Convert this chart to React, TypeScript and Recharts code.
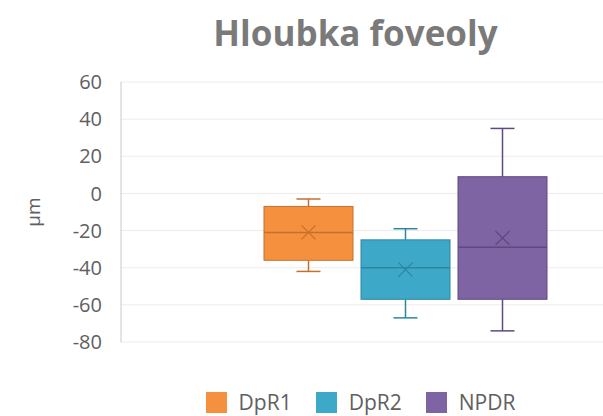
import React from 'react';
import {
  Bar,
  CartesianGrid,
  ComposedChart,
  Legend,
  XAxis,
  YAxis,
} from 'recharts';

const groups = ['DpR1', 'DpR2', 'NPDR'];
const minVals = [-42, -67, -74];
const q1Vals = [-36, -57, -57];
const medianVals = [-21, -40, -29];
const q3Vals = [-7, -25, 9];
const maxVals = [-3, -19, 35];
const meanVals = [-21, -41, -24];
const yTicks = [-80, -60, -40, -20, 0, 20, 40, 60];

const fills = ['#F5913E', '#3DA8C7', '#7E64A2'];
const darks = ['#C4702C', '#2C86A0', '#5E4A80'];

const FONT = '"Open Sans", "Noto Sans", sans-serif';

// one row, one range value per group
const data = [
  groups.reduce(
    (row, g, i) => ({ ...row, [g]: [q1Vals[i], q3Vals[i]] }),
    { name: '' } as Record<string, unknown>
  ),
];

// eslint-disable-next-line @typescript-eslint/no-explicit-any
const BoxShape = (props: any, i: number) => {
  const { x, y, width, height } = props;
  const top = Math.min(y, y + height);
  const h = Math.abs(height);
  const ppu = h / (q3Vals[i] - q1Vals[i]);
  const toY = (v: number) => top + (q3Vals[i] - v) * ppu;
  const cx = x + width / 2;
  const cap = 12;
  const dark = darks[i];
  const my = toY(meanVals[i]);
  const m = 7;
  return (
    <g>
      <line x1={cx} x2={cx} y1={toY(maxVals[i])} y2={top} stroke={dark} strokeWidth={1.5} />
      <line x1={cx - cap} x2={cx + cap} y1={toY(maxVals[i])} y2={toY(maxVals[i])} stroke={dark} strokeWidth={1.5} />
      <line x1={cx} x2={cx} y1={top + h} y2={toY(minVals[i])} stroke={dark} strokeWidth={1.5} />
      <line x1={cx - cap} x2={cx + cap} y1={toY(minVals[i])} y2={toY(minVals[i])} stroke={dark} strokeWidth={1.5} />
      <rect x={x} y={top} width={width} height={h} fill={fills[i]} stroke={dark} strokeWidth={1} />
      <line x1={x} x2={x + width} y1={toY(medianVals[i])} y2={toY(medianVals[i])} stroke={dark} strokeWidth={1.5} />
      <line x1={cx - m} x2={cx + m} y1={my - m} y2={my + m} stroke={dark} strokeWidth={1.2} />
      <line x1={cx - m} x2={cx + m} y1={my + m} y2={my - m} stroke={dark} strokeWidth={1.2} />
    </g>
  );
};

// eslint-disable-next-line @typescript-eslint/no-explicit-any
const LegendContent = ({ payload }: any) => (
  <div style={{ display: 'flex', justifyContent: 'center', gap: 24, marginLeft: 118 }}>
    {/* eslint-disable-next-line @typescript-eslint/no-explicit-any */}
    {(payload || []).map((p: any) => (
      <div key={p.value} style={{ display: 'flex', alignItems: 'center', gap: 12 }}>
        <span style={{ width: 21, height: 21, background: p.color, display: 'inline-block' }} />
        <span style={{ fontSize: 21, color: '#606060', fontFamily: FONT }}>{p.value}</span>
      </div>
    ))}
  </div>
);

export default function App() {
  return (
    <div style={{ position: 'relative', width: 603, height: 416, background: '#fff' }}>
      <style>{'body{margin:0}'}</style>
      <div
        style={{
          position: 'absolute',
          top: 9,
          left: 0,
          width: 603,
          marginLeft: 108,
          textAlign: 'center',
          fontFamily: FONT,
          fontWeight: 700,
          fontSize: 35,
          color: '#7A7A7A',
          boxSizing: 'border-box',
          paddingRight: 108,
        }}
      >
        Hloubka foveoly
      </div>
      <ComposedChart
        width={603}
        height={416}
        data={data}
        margin={{ top: 82, right: 0, bottom: 46, left: 0 }}
        barGap={8}
        barSize={89}
      >
        <CartesianGrid vertical={false} stroke="#ECECEC" />
        <XAxis dataKey="name" hide padding={{ left: 86, right: 0 }} />
        <YAxis
          width={121}
          domain={[-80, 60]}
          ticks={yTicks}
          interval={0}
          tickLine={false}
          axisLine={{ stroke: '#C8C8C8' }}
          tickMargin={13}
          tick={{ fill: '#606060', fontSize: 20, fontFamily: FONT }}
          label={{
            value: 'µm',
            angle: -90,
            position: 'center',
            dx: -27,
            style: { fill: '#606060', fontSize: 19, fontFamily: FONT },
          }}
        />
        {groups.map((g, i) => (
          <Bar
            key={g}
            dataKey={g}
            name={g}
            fill={fills[i]}
            isAnimationActive={false}
            shape={(p: unknown) => BoxShape(p, i)}
          />
        ))}
        <Legend
          verticalAlign="bottom"
          content={LegendContent}
          wrapperStyle={{ top: 388, bottom: 'auto' }}
        />
      </ComposedChart>
    </div>
  );
}
